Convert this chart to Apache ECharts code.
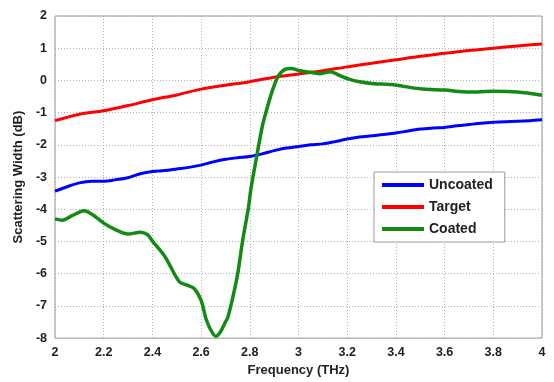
<!DOCTYPE html>
<html><head><meta charset="utf-8">
<script src="https://cdn.jsdelivr.net/npm/echarts@6/dist/echarts.min.js"></script>
<style>html,body{margin:0;padding:0;background:#fff}#c{width:554px;height:382px}</style>
</head><body><div id="c"></div>
<script>
const freqU = [2.0,2.05,2.1,2.15,2.2,2.25,2.3,2.35,2.4,2.45,2.5,2.55,2.6,2.65,2.7,2.75,2.8,2.85,2.9,2.95,3.0,3.05,3.1,3.15,3.2,3.25,3.3,3.35,3.4,3.45,3.5,3.55,3.6,3.65,3.7,3.75,3.8,3.85,3.9,3.95,4.0];
const uncoated = [-3.44,-3.3,-3.18,-3.13,-3.13,-3.08,-3.02,-2.9,-2.83,-2.8,-2.75,-2.7,-2.63,-2.53,-2.45,-2.4,-2.36,-2.28,-2.18,-2.1,-2.05,-2.0,-1.97,-1.9,-1.82,-1.76,-1.72,-1.68,-1.63,-1.57,-1.51,-1.48,-1.46,-1.41,-1.37,-1.33,-1.30,-1.28,-1.27,-1.25,-1.22];
const freqT = [2.0,2.1,2.2,2.3,2.4,2.5,2.6,2.7,2.8,2.9,3.0,3.1,3.2,3.3,3.4,3.5,3.6,3.7,3.8,3.9,4.0];
const target = [-1.25,-1.05,-0.94,-0.78,-0.6,-0.45,-0.27,-0.15,-0.04,0.1,0.2,0.3,0.42,0.53,0.64,0.75,0.84,0.93,1.0,1.07,1.13];
const freqC = [2.0,2.03,2.07,2.12,2.15,2.2,2.25,2.3,2.35,2.38,2.4,2.45,2.51,2.54,2.57,2.6,2.62,2.64,2.66,2.68,2.7,2.71,2.73,2.75,2.77,2.794,2.805,2.829,2.852,2.87,2.89,2.91,2.927,2.952,2.972,3.0,3.06,3.09,3.13,3.17,3.21,3.25,3.31,3.38,3.5,3.6,3.7,3.8,3.9,4.0];
const coated = [-4.3,-4.34,-4.2,-4.05,-4.15,-4.43,-4.64,-4.77,-4.71,-4.79,-4.99,-5.45,-6.25,-6.35,-6.45,-6.83,-7.4,-7.75,-7.94,-7.8,-7.5,-7.35,-6.74,-6.02,-5.0,-3.97,-3.35,-2.33,-1.4,-0.89,-0.38,0.03,0.24,0.36,0.37,0.31,0.24,0.21,0.27,0.15,0.03,-0.04,-0.1,-0.13,-0.26,-0.3,-0.36,-0.34,-0.36,-0.46];
const xTicks = [2,2.2,2.4,2.6,2.8,3,3.2,3.4,3.6,3.8,4];
const yTicks = [-8,-7,-6,-5,-4,-3,-2,-1,0,1,2];

const zip = (a,b)=>a.map((v,i)=>[v,b[i]]);
const font = 'Arial, "Liberation Sans", sans-serif';
const chart = echarts.init(document.getElementById('c'));
const gridLine = {show:true,lineStyle:{color:'#b0b0b0',type:[1,2],width:1}};
chart.setOption({
  animation:false,
  grid:{left:55,right:12,top:16,bottom:41,show:true,borderColor:'#999',borderWidth:1},
  legend:{
    show:true, orient:'vertical', left:374, top:172, width:133,
    backgroundColor:'#fff', borderColor:'#999', borderWidth:1,
    padding:[6,12,6,8], itemGap:8, itemWidth:42, itemHeight:4,
    textStyle:{fontFamily:font,fontWeight:'bold',fontSize:14,color:'#222'},
    icon:'rect',
    data:['Uncoated','Target','Coated']
  },
  xAxis:{type:'value',min:2,max:4,interval:0.2,
    name:'Frequency (THz)',nameLocation:'middle',nameGap:24,
    nameTextStyle:{fontFamily:font,fontWeight:'bold',fontSize:13,color:'#222'},
    axisLine:{show:false},axisTick:{show:false},
    axisLabel:{fontFamily:font,fontWeight:'bold',fontSize:12.5,color:'#222',margin:8,
      formatter:v=>xTicks.includes(+v.toFixed(1))?String(+v.toFixed(1)):''},
    splitLine:gridLine},
  yAxis:{type:'value',min:-8,max:2,interval:1,
    name:'Scattering Width (dB)',nameLocation:'middle',nameGap:28,
    nameTextStyle:{fontFamily:font,fontWeight:'bold',fontSize:13,color:'#222'},
    axisLine:{show:false},axisTick:{show:false},
    axisLabel:{fontFamily:font,fontWeight:'bold',fontSize:12.5,color:'#222',margin:8,
      formatter:v=>yTicks.includes(v)?String(v):''},
    splitLine:gridLine},
  series:[
    {name:'Uncoated',type:'line',data:zip(freqU,uncoated),showSymbol:false,smooth:0.3,
      lineStyle:{color:'#0000ff',width:3},itemStyle:{color:'#0000ff'}},
    {name:'Target',type:'line',data:zip(freqT,target),showSymbol:false,smooth:0.3,
      lineStyle:{color:'#ff0000',width:3},itemStyle:{color:'#ff0000'}},
    {name:'Coated',type:'line',data:zip(freqC,coated),showSymbol:false,smooth:0.3,
      lineStyle:{color:'#138a13',width:3.5},itemStyle:{color:'#138a13'}}
  ]
});
</script></body></html>
